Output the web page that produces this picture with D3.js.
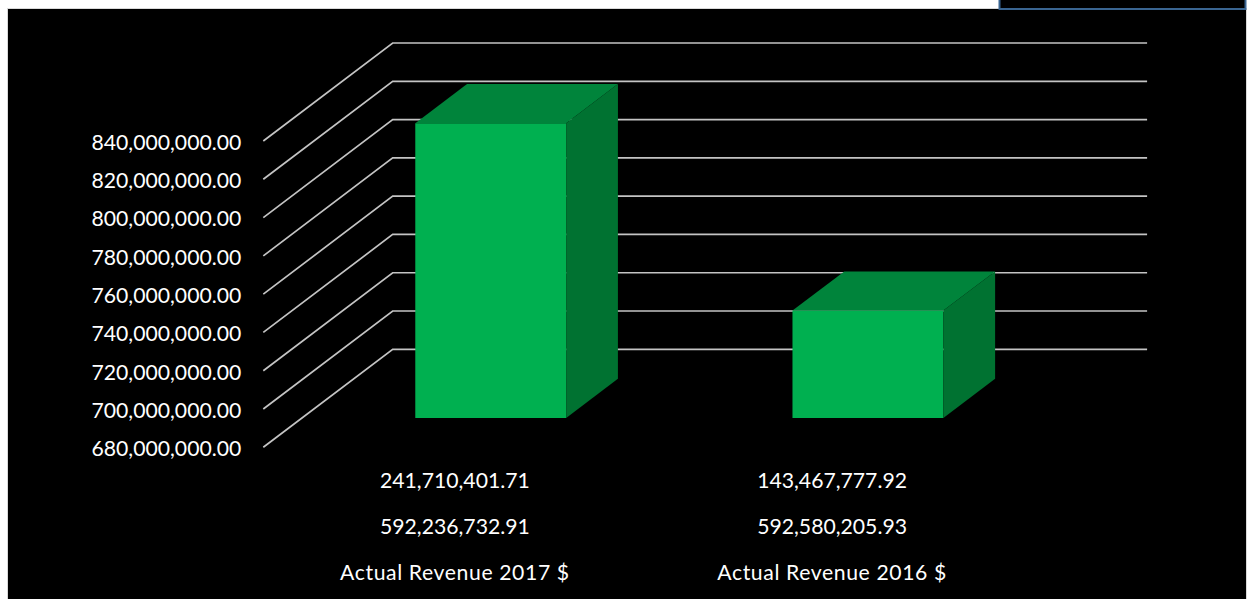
<!DOCTYPE html>
<html>
<head>
<meta charset="utf-8">
<script src="https://cdn.jsdelivr.net/npm/d3@7"></script>
<style>
  html, body { margin: 0; padding: 0; background: #ffffff; }
  svg { display: block; }
  text { font-family: Lato, "Open Sans", sans-serif; fill: #ffffff; }
</style>
</head>
<body>
<svg id="chart" width="1248" height="599"></svg>
<script>
// Categories and the two value rows shown under each bar
const categories = ["Actual Revenue 2017 $", "Actual Revenue 2016 $"];
const upperRow = [241710401.71, 143467777.92];
const middleRow = [592236732.91, 592580205.93];
// Bar height: total revenue (upper row + middle row)
const totalRevenue = [833947134.62, 736047983.85];
// Value axis
const axisMin = 680000000;
const axisMax = 840000000;
const tickStep = 20000000;

const svg = d3.select("#chart");

// Chart area
svg.append("rect")
  .attr("x", 7.5).attr("y", 8.5)
  .attr("width", 1239).attr("height", 600)
  .attr("fill", "#000000")
  .attr("stroke", "#d9d9d9").attr("stroke-width", 1);

// Small framed box peeking in at the top right
svg.append("rect")
  .attr("x", 999.5).attr("y", -2)
  .attr("width", 246).attr("height", 11)
  .attr("fill", "#000000")
  .attr("stroke", "#3a6591").attr("stroke-width", 2);

// 3D projection: front plane coordinates plus an oblique depth offset
const depthDX = 129.4, depthDY = 98;
const proj = (x, y, d) => [x + d * depthDX, y - d * depthDY];

const x = d3.scaleBand()
  .domain(categories)
  .range([263.3, 1017.7])
  .paddingInner(0.6)
  .paddingOuter(0.3);

const y = d3.scaleLinear()
  .domain([axisMin, axisMax])
  .range([447.3, 141]);

const ticks = d3.range(axisMin, axisMax + tickStep / 2, tickStep);

// Gridlines: side wall diagonals and back wall horizontals
const grid = svg.append("g")
  .attr("fill", "none")
  .attr("stroke", "#c4c4c4")
  .attr("stroke-width", 1.7);

grid.selectAll("path")
  .data(ticks)
  .join("path")
  .attr("d", t => {
    const a = proj(263.3, y(t), 0);
    const b = proj(263.3, y(t), 1);
    const c = proj(1017.7, y(t), 1);
    return d3.line()([a, b, c]);
  });

// Value axis labels
const axis = d3.axisLeft(y)
  .tickValues(ticks)
  .tickFormat(d3.format(",.2f"))
  .tickSize(0)
  .tickPadding(22);

const axisG = svg.append("g")
  .attr("transform", "translate(263.3,1.5)")
  .call(axis);
axisG.select(".domain").remove();
axisG.selectAll("text")
  .attr("fill", "#ffffff")
  .style("font-family", "Lato, 'Open Sans', sans-serif")
  .style("font-size", "21.2px");

// 3D bars
const d0 = 0.3, d1 = 0.7;
const bw = x.bandwidth();
const bars = svg.append("g");

categories.forEach((cat, i) => {
  const x0 = x(cat), x1 = x0 + bw;
  const yTop = y(totalRevenue[i]);
  const yBase = y(axisMin);
  const g = bars.append("g");
  const poly = pts => d3.line()(pts) + "Z";

  // front face
  g.append("path")
    .attr("d", poly([proj(x0, yTop, d0), proj(x1, yTop, d0), proj(x1, yBase, d0), proj(x0, yBase, d0)]))
    .attr("fill", "#00b050");
  // top face
  g.append("path")
    .attr("d", poly([proj(x0, yTop, d0), proj(x1, yTop, d0), proj(x1, yTop, d1), proj(x0, yTop, d1)]))
    .attr("fill", "#00843b");
  // right side face
  g.append("path")
    .attr("d", poly([proj(x1, yTop, d0), proj(x1, yTop, d1), proj(x1, yBase, d1), proj(x1, yBase, d0)]))
    .attr("fill", "#007231");
});

// Category labels: three rows under each bar
const fmt = d3.format(",.2f");
const rows = [
  { vals: upperRow.map(fmt), y: 480, spacing: 0 },
  { vals: middleRow.map(fmt), y: 526, spacing: 0 },
  { vals: categories, y: 572, spacing: 0.6 }
];

rows.forEach(r => {
  svg.append("g")
    .selectAll("text")
    .data(r.vals)
    .join("text")
    .attr("x", (d, i) => x(categories[i]) + bw / 2 + 3)
    .attr("y", r.y)
    .attr("text-anchor", "middle")
    .attr("dominant-baseline", "central")
    .style("font-size", "21.2px")
    .style("letter-spacing", r.spacing + "px")
    .text(d => d);
});
</script>
</body>
</html>
